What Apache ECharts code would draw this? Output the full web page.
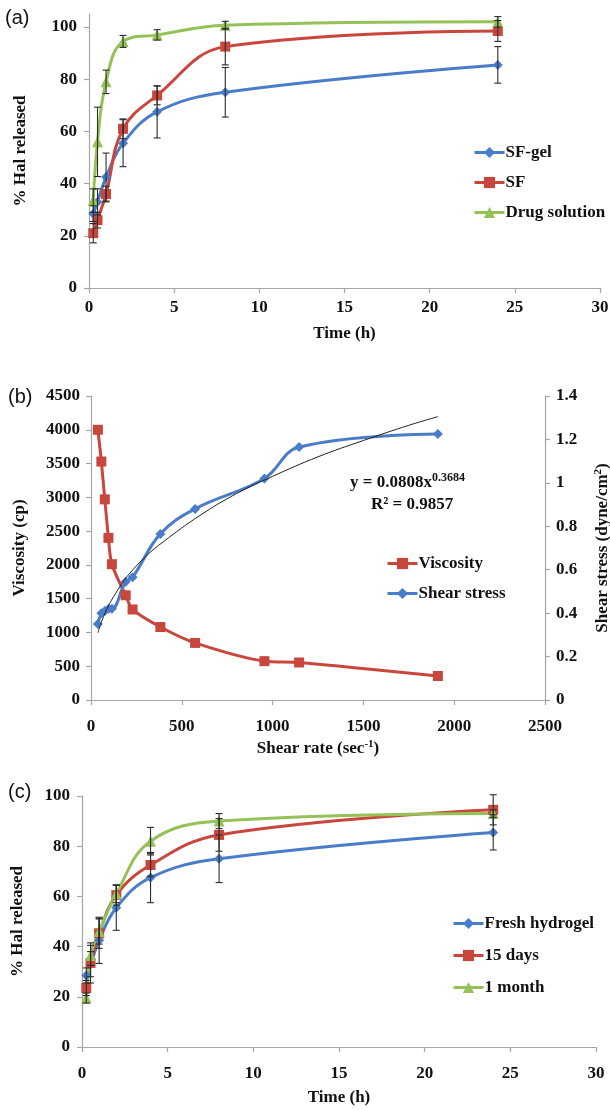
<!DOCTYPE html>
<html>
<head>
<meta charset="utf-8">
<script src="https://cdn.jsdelivr.net/npm/echarts@6/dist/echarts.min.js"></script>
<style>
  html, body { margin: 0; padding: 0; background: #fff; }
  #chart { width: 610px; height: 1110px; }
</style>
</head>
<body>
<div id="chart"></div>
<script>
// ---- data ----
const timeH = [0.25, 0.5, 1, 2, 4, 8, 24];

// (a) release profiles
const sfGel = [28.5, 33, 42.5, 55.5, 67.5, 75, 85.5];
const sfGelErr = [3, 5, 9.2, 9, 10, 9.5, 7];
const sf = [21, 26, 36, 61, 73.8, 92.5, 98.5];
const sfErr = [3.7, 3, 3, 3.8, 3.6, 7, 4];
const drugSol = [33.5, 56, 79, 94.5, 97, 100.7, 102];
const drugSolErr = [4.5, 13.3, 4.5, 2.3, 2, 1.5, 2];

// (b) rheology
const shearRate = [38, 57, 76, 96, 115, 191, 229, 382, 573, 955, 1146, 1910];
const viscosity = [4000, 3530, 2970, 2400, 2010, 1550, 1340, 1080, 845, 575, 555, 355];
const shearStress = [0.35, 0.40, 0.41, 0.42, 0.42, 0.545, 0.565, 0.765, 0.88, 1.02, 1.165, 1.225];
// power trendline as traced on the plot
const trendX = [38, 60, 100, 150, 200, 300, 400, 600, 800, 1000, 1250, 1500, 1750, 1910];
const trendY = [0.31, 0.365, 0.44, 0.51, 0.57, 0.66, 0.73, 0.85, 0.95, 1.03, 1.12, 1.195, 1.265, 1.305];

// (c) stability
const fresh = [28.5, 33, 42.5, 55.5, 67.5, 75, 85.5];
const freshErr = [3, 5, 9.2, 9, 10, 9.5, 7];
const days15 = [23.5, 33.5, 45.3, 60.5, 72.5, 84.5, 94.5];
const days15Err = [3, 8, 6, 4, 4.5, 6.5, 6];
const month1 = [19.5, 36.5, 46, 61, 82, 90, 93];
const month1Err = [2, 4, 5, 3.5, 5.5, 3, 1.5];

const pctTicks = [0, 20, 40, 60, 80, 100];

const BLUE = '#4A7DC9', RED = '#C9463D', GREEN = '#94C256';
const AXIS = '#A6A6A6';
const SERIF = 'Liberation Serif';

const chart = echarts.init(document.getElementById('chart'));

function pairs(xs, ys) { return xs.map((x, i) => [x, ys[i]]); }
function bars(xs, ys, es) { return xs.map((x, i) => [x, ys[i] - es[i], ys[i] + es[i]]); }

function errBar(params, api) {
  const x = api.value(0);
  const a = api.coord([x, api.value(1)]);
  const b = api.coord([x, api.value(2)]);
  const c = 3.5;
  const st = { stroke: '#2b2b2b', lineWidth: 1.1 };
  return {
    type: 'group',
    children: [
      { type: 'line', shape: { x1: a[0], y1: a[1], x2: b[0], y2: b[1] }, style: st },
      { type: 'line', shape: { x1: a[0] - c, y1: a[1], x2: a[0] + c, y2: a[1] }, style: st },
      { type: 'line', shape: { x1: b[0] - c, y1: b[1], x2: b[0] + c, y2: b[1] }, style: st }
    ]
  };
}

const plain = v => String(+v.toFixed(1));
const labelStyle = { fontFamily: SERIF, fontWeight: 'bold', fontSize: 17, color: '#111' };
const nameStyle = { fontFamily: SERIF, fontWeight: 'bold', fontSize: 17, color: '#111' };
const axisLine = { show: true, lineStyle: { color: AXIS, width: 1.2 } };
const axisTick = { show: true, length: 5, lineStyle: { color: AXIS, width: 1.2 } };
const supRich = {
  a: nameStyle,
  s: { fontFamily: SERIF, fontWeight: 'bold', fontSize: 11, color: '#111', padding: [0, 0, 9, 0] }
};

function valAxis(extra, margin, labelExtra) {
  return Object.assign({
    type: 'value',
    axisLine: axisLine,
    axisTick: axisTick,
    splitLine: { show: false },
    axisLabel: Object.assign({ margin: margin, formatter: plain }, labelStyle, labelExtra || {}),
    nameLocation: 'middle',
    nameTextStyle: nameStyle
  }, extra);
}

function lineSeries(name, data, color, symbol, size, xi, yi, smooth) {
  return {
    type: 'line', name: name, data: data,
    xAxisIndex: xi, yAxisIndex: yi,
    smooth: smooth, clip: false,
    symbol: symbol, symbolSize: size,
    lineStyle: { color: color, width: 3 },
    itemStyle: { color: color },
    z: 3
  };
}

function errSeries(xs, ys, es, xi, yi) {
  return {
    type: 'custom', renderItem: errBar, data: bars(xs, ys, es),
    xAxisIndex: xi, yAxisIndex: yi, encode: { x: 0, y: [1, 2] }, clip: false, z: 4,
    silent: true
  };
}

const legendBase = {
  orient: 'vertical', itemWidth: 30, itemHeight: 14, padding: 0,
  lineStyle: { width: 3 },
  textStyle: Object.assign({}, labelStyle, { padding: [0, 0, 0, -4] })
};

const option = {
  animation: false,
  backgroundColor: '#fff',
  grid: [
    { left: 89, top: 14, width: 511, height: 274, outerBoundsMode: 'none' },
    { left: 91, top: 396, width: 454, height: 304, outerBoundsMode: 'none' },
    { left: 82, top: 796, width: 514, height: 251, outerBoundsMode: 'none' }
  ],
  xAxis: [
    valAxis({ gridIndex: 0, min: 0, max: 30, interval: 5, name: 'Time (h)', nameGap: 37 }, 11),
    valAxis({
      gridIndex: 1, min: 0, max: 2500, interval: 500, nameGap: 39,
      name: '{a|Shear rate (sec}{s|-1}{a|)}',
      nameTextStyle: { rich: supRich }
    }, 18),
    valAxis({ gridIndex: 2, min: 0, max: 30, interval: 5, name: 'Time (h)', nameGap: 42 }, 18)
  ],
  yAxis: [
    valAxis({
      gridIndex: 0, min: 0, max: 105, name: '% Hal released', nameGap: 60,
      axisTick: Object.assign({ customValues: pctTicks }, axisTick)
    }, 12, { customValues: pctTicks }),
    valAxis({ gridIndex: 1, min: 0, max: 4500, interval: 500, name: 'Viscosity (cp)', nameGap: 63 }, 11),
    valAxis({
      gridIndex: 1, position: 'right', min: 0, max: 1.4, interval: 0.2, nameGap: 48,
      name: '{a|Shear stress (dyne/cm}{s|2}{a|)}',
      nameTextStyle: { rich: supRich }
    }, 11),
    valAxis({ gridIndex: 2, min: 0, max: 100, interval: 20, name: '% Hal released', nameGap: 56 }, 12)
  ],
  legend: [
    Object.assign({ left: 473, top: 144, itemGap: 13, data: ['SF-gel', 'SF', 'Drug solution'] }, legendBase),
    Object.assign({ left: 386, top: 555, itemGap: 13, data: ['Viscosity', 'Shear stress'] }, legendBase),
    Object.assign({ left: 452, top: 915, itemGap: 15, data: ['Fresh hydrogel', '15 days', '1 month'] }, legendBase)
  ],
  graphic: [
    { type: 'text', left: 5, top: 8, style: { text: '(a)', font: '20px "Liberation Sans"', fill: '#111' } },
    { type: 'text', left: 8, top: 387, style: { text: '(b)', font: '20px "Liberation Sans"', fill: '#111' } },
    { type: 'text', left: 8, top: 782, style: { text: '(c)', font: '20px "Liberation Sans"', fill: '#111' } },
    {
      type: 'text', left: 350, top: 472,
      style: {
        text: '{b|y = 0.0808x}{s|0.3684}',
        rich: {
          b: { fontFamily: SERIF, fontWeight: 'bold', fontSize: 17, fill: '#111' },
          s: { fontFamily: SERIF, fontWeight: 'bold', fontSize: 12, fill: '#111', padding: [0, 0, 9, 0] }
        }
      }
    },
    {
      type: 'text', left: 371, top: 496,
      style: { text: 'R\u00B2 = 0.9857', font: 'bold 17px "Liberation Serif"', fill: '#111' }
    }
  ],
  series: [
    // (a)
    lineSeries('SF-gel', pairs(timeH, sfGel), BLUE, 'diamond', 10, 0, 0, 0.4),
    lineSeries('SF', pairs(timeH, sf), RED, 'rect', 10, 0, 0, 0.4),
    lineSeries('Drug solution', pairs(timeH, drugSol), GREEN, 'triangle', 11, 0, 0, 0.4),
    errSeries(timeH, sfGel, sfGelErr, 0, 0),
    errSeries(timeH, sf, sfErr, 0, 0),
    errSeries(timeH, drugSol, drugSolErr, 0, 0),
    // (b)
    lineSeries('Viscosity', pairs(shearRate, viscosity), RED, 'rect', 10, 1, 1, 0.3),
    lineSeries('Shear stress', pairs(shearRate, shearStress), BLUE, 'diamond', 10, 1, 2, 0.4),
    {
      type: 'line', data: pairs(trendX, trendY), xAxisIndex: 1, yAxisIndex: 2,
      smooth: 0.4, symbol: 'none', silent: true,
      lineStyle: { color: '#222', width: 1 }, z: 4
    },
    // (c)
    lineSeries('Fresh hydrogel', pairs(timeH, fresh), BLUE, 'diamond', 10, 2, 3, 0.4),
    lineSeries('15 days', pairs(timeH, days15), RED, 'rect', 10, 2, 3, 0.4),
    lineSeries('1 month', pairs(timeH, month1), GREEN, 'triangle', 11, 2, 3, 0.4),
    errSeries(timeH, fresh, freshErr, 2, 3),
    errSeries(timeH, days15, days15Err, 2, 3),
    errSeries(timeH, month1, month1Err, 2, 3)
  ]
};

chart.setOption(option);
window.addEventListener('resize', () => chart.resize());
</script>
</body>
</html>
